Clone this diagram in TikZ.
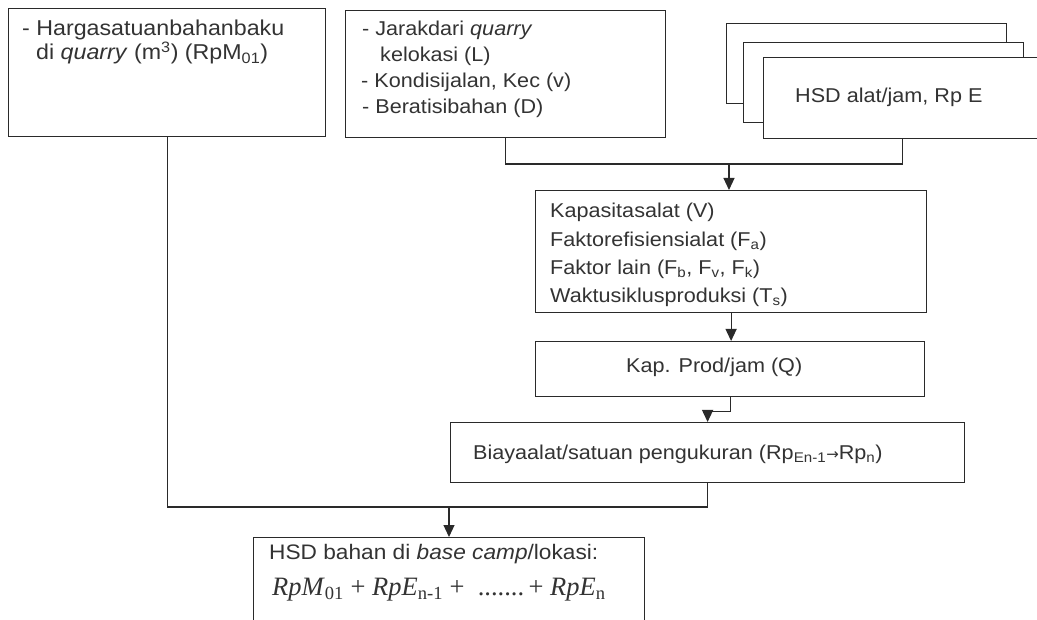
\documentclass[tikz,border=0pt]{standalone}
\usepackage{fontspec}
\setmainfont[FakeStretch=1.08]{Liberation Sans}
\newfontfamily\tnr{Liberation Serif}
\newfontfamily\arrowfont{DejaVu Sans}
\usetikzlibrary{arrows.meta}
\definecolor{linec}{HTML}{2A2A2A}
\definecolor{textc}{HTML}{333333}
\begin{document}
\begin{tikzpicture}[x=1pt,y=-1pt,
  box/.style={draw=linec, line width=1.2pt, fill=white, inner sep=0pt, anchor=north west},
  txt/.style={anchor=mid west, inner sep=0pt, text=textc, font=\fontsize{20}{24}\selectfont},
  bigtxt/.style={txt, font=\fontsize{21.5}{26}\selectfont},
  conn/.style={draw=linec, line width=1.2pt},
  arr/.style={conn, -{Triangle[length=12pt,width=11pt]}}]
\useasboundingbox (0,0) rectangle (1037,620);
\fill[white] (0,0) rectangle (1037,620);
% boxes
\node[box, minimum width=317pt, minimum height=128pt] (box1) at (8,8) {};
\node[box, minimum width=320pt, minimum height=127pt] (box2) at (345,10) {};
\node[box, minimum width=280pt, minimum height=80pt] (back) at (726,23) {};
\node[box, minimum width=280pt, minimum height=80pt] (mid) at (743,42) {};
\node[box, minimum width=278pt, minimum height=81pt] (front) at (763,57) {};
\node[box, minimum width=391pt, minimum height=122pt] (box3) at (535,190) {};
\node[box, minimum width=389pt, minimum height=55pt] (box4) at (535,341) {};
\node[box, minimum width=514pt, minimum height=60pt] (box5) at (450,422) {};
\node[box, minimum width=391pt, minimum height=95pt] (box6) at (253,537) {};
% texts
\node[bigtxt] (t1a) at (22,33) {- Hargasatuanbahanbaku};
\node[bigtxt] (t1b) at (36,57) {di \textit{quarry} (m\textsuperscript{3}) (RpM\textsubscript{01})};
\node[txt] (t2a) at (362,33) {- Jarakdari \textit{quarry}};
\node[txt] (t2b) at (380,59) {kelokasi (L)};
\node[txt] (t2c) at (361,85) {- Kondisijalan, Kec (v)};
\node[txt] (t2d) at (362,111) {- Beratisibahan (D)};
\node[txt] (tE) at (795,100) {HSD alat/jam, Rp E};
\node[txt] (t3a) at (550,215) {Kapasitasalat (V)};
\node[txt] (t3b) at (550,244) {Faktorefisiensialat (F\textsubscript{a})};
\node[txt] (t3c) at (550,272) {Faktor lain (F\textsubscript{b}, F\textsubscript{v}, F\textsubscript{k})};
\node[txt] (t3d) at (550,300) {Waktusiklusproduksi (T\textsubscript{s})};
\node[txt] (t4) at (626,370) {Kap. Prod/jam (Q)};
\node[txt] (t5) at (473,457) {Biayaalat/satuan pengukuran (Rp\textsubscript{En-1}{\arrowfont\fontsize{15}{18}\selectfont →}Rp\textsubscript{n})};
\node[txt, font=\fontsize{21}{25}\selectfont] (t6a) at (269,557) {HSD bahan di \textit{base camp}/lokasi:};
\node[txt, font=\tnr\fontsize{26.5}{30}\selectfont] (t6b) at (272,593) {\textit{RpM}\textsubscript{01} + \textit{RpE}\textsubscript{n-1} + \ .......\,+ \textit{RpE}\textsubscript{n}};
% connectors
\coordinate (j1) at (729,164);
\coordinate (j2) at (449,507);
\draw[conn] (box2.south) |- (j1) -| (front.south);
\draw[arr] (j1) -- (j1 |- box3.north);
\draw[arr] (box3.south) -- (box3.south |- box4.north);
\draw[arr] (box4.south) -- ++(0,14) -| (box5.north);
\draw[conn] (box1.south) |- (j2) -| (box5.south);
\draw[arr] (j2) -- (j2 |- box6.north);
\end{tikzpicture}
\end{document}
